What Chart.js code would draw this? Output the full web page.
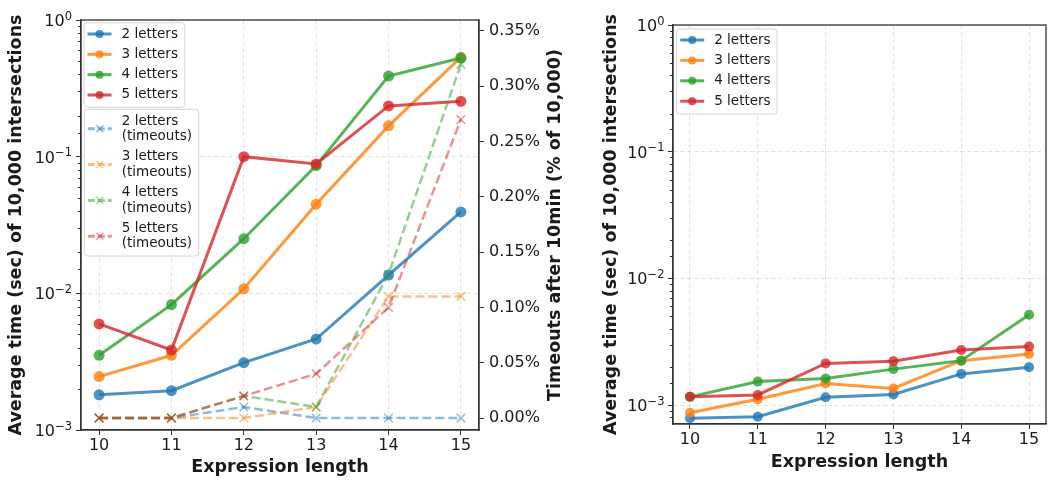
<!DOCTYPE html>
<html>
<head>
<meta charset="utf-8">
<script src="https://cdn.jsdelivr.net/npm/chart.js@4"></script>
<style>
html, body { margin: 0; padding: 0; background: #fff; }
#wrap { position: relative; width: 1051px; height: 482px; }
#left { position: absolute; left: 0; top: 0; }
#right { position: absolute; left: 595px; top: 0; }
</style>
</head>
<body>
<div id="wrap">
  <canvas id="left" width="590" height="482"></canvas>
  <canvas id="right" width="456" height="482"></canvas>
</div>
<script>
// expression lengths on the x axis
const lengths = [10, 11, 12, 13, 14, 15];
const letterNames = ['2 letters', '3 letters', '4 letters', '5 letters'];

// left panel: average time (sec) of 10,000 intersections
const time2 = [0.00181, 0.00194, 0.00311, 0.00463, 0.0136, 0.0394];
const time3 = [0.00246, 0.00352, 0.0108, 0.0449, 0.168, 0.533];
const time4 = [0.00352, 0.00827, 0.0251, 0.086, 0.389, 0.527];
const time5 = [0.00597, 0.00385, 0.100, 0.0885, 0.235, 0.254];

// left panel: timeouts after 10min (% of 10,000)
const timeout2 = [0, 0, 0.01, 0, 0, 0];
const timeout3 = [0, 0, 0, 0.01, 0.11, 0.11];
const timeout4 = [0, 0, 0.02, 0.01, 0.13, 0.32];
const timeout5 = [0, 0, 0.02, 0.04, 0.10, 0.27];
const timeoutTicks = [0, 0.05, 0.10, 0.15, 0.20, 0.25, 0.30, 0.35];

// right panel: average time (sec)
const fast2 = [0.000785, 0.000809, 0.00115, 0.00121, 0.00176, 0.00199];
const fast3 = [0.000869, 0.00111, 0.00148, 0.00135, 0.00224, 0.00253];
const fast4 = [0.00116, 0.00153, 0.00162, 0.00192, 0.00224, 0.00516];
const fast5 = [0.00116, 0.00120, 0.00213, 0.00222, 0.00272, 0.00289];

Chart.defaults.font.family = "'DejaVu Sans', sans-serif";
Chart.defaults.color = '#1a1a1a';

const tab = [[31, 119, 180], [255, 127, 14], [44, 160, 44], [214, 39, 40]];
const rgba = (c, a) => `rgba(${c[0]},${c[1]},${c[2]},${a})`;
const gridCol = 'rgba(170,170,170,0.35)';
const spine = '#333';
const clear = 'rgba(0,0,0,0)';

function isPow10(v) {
  const e = Math.log10(v);
  return Math.abs(e - Math.round(e)) < 1e-6;
}
const pts = vals => vals.map((v, i) => ({ x: lengths[i], y: v }));

function lineSet(i, vals, order, r) {
  return {
    label: letterNames[i],
    data: pts(vals),
    yAxisID: 'y',
    borderColor: rgba(tab[i], 0.8),
    backgroundColor: rgba(tab[i], 0.8),
    pointBackgroundColor: rgba(tab[i], 0.8),
    pointBorderColor: rgba(tab[i], 0.8),
    borderWidth: 3,
    pointRadius: r,
    pointBorderWidth: 0,
    pointStyle: 'circle',
    tension: 0,
    order: order
  };
}
function timeoutSet(i, vals, order) {
  return {
    label: letterNames[i] + '\n(timeouts)',
    data: pts(vals),
    yAxisID: 'y1',
    borderColor: rgba(tab[i], 0.5),
    backgroundColor: rgba(tab[i], 0.5),
    pointBorderColor: rgba(tab[i], 0.5),
    borderWidth: 2.5,
    borderDash: [9, 4],
    pointStyle: 'crossRot',
    pointRadius: 6,
    pointBorderWidth: 1.5,
    tension: 0,
    order: order
  };
}

// frame around the plot area (matplotlib spines)
const frame = {
  id: 'frame',
  afterDatasetsDraw(chart) {
    const a = chart.chartArea, ctx = chart.ctx;
    ctx.save();
    ctx.strokeStyle = spine;
    ctx.lineWidth = 1.3;
    ctx.strokeRect(a.left, a.top, a.right - a.left, a.bottom - a.top);
    ctx.restore();
  }
};

// log-axis labels as 10 with a raised exponent, plus short minor ticks
const logLabels = {
  id: 'logLabels',
  afterDraw(chart, args, opts) {
    const sc = chart.scales.y, ctx = chart.ctx;
    ctx.save();
    ctx.fillStyle = '#1a1a1a';
    ctx.strokeStyle = spine;
    ctx.lineWidth = 1;
    ctx.textAlign = 'left';
    ctx.textBaseline = 'alphabetic';
    sc.ticks.forEach(t => {
      const y = sc.getPixelForValue(t.value);
      if (isPow10(t.value)) {
        const e = String(Math.round(Math.log10(t.value))).replace('-', '\u2212');
        ctx.font = "16px 'DejaVu Sans'";
        const baseW = ctx.measureText('10').width;
        ctx.font = "11.5px 'DejaVu Sans'";
        const expW = ctx.measureText(e).width;
        const x0 = sc.right - 5 - opts.pad - baseW - expW;
        ctx.font = "16px 'DejaVu Sans'";
        ctx.fillText('10', x0, y + 6);
        ctx.font = "11.5px 'DejaVu Sans'";
        ctx.fillText(e, x0 + baseW, y - 0.5);
      } else if (y > chart.chartArea.top + 0.5 && y < chart.chartArea.bottom - 0.5) {
        ctx.beginPath();
        ctx.moveTo(sc.right - 3, Math.round(y) + 0.5);
        ctx.lineTo(sc.right, Math.round(y) + 0.5);
        ctx.stroke();
      }
    });
    ctx.restore();
  }
};

// legend boxes inside the plot area
const boxLegend = {
  id: 'boxLegend',
  afterDraw(chart, args, opts) {
    const ctx = chart.ctx;
    (opts.boxes || []).forEach(b => {
      ctx.save();
      ctx.beginPath();
      ctx.roundRect(b.x, b.y, b.w, b.h, 3);
      ctx.fillStyle = 'rgba(255,255,255,0.85)';
      ctx.fill();
      ctx.strokeStyle = '#d4d4d4';
      ctx.lineWidth = 1;
      ctx.stroke();
      b.items.forEach((idx, k) => {
        const ds = chart.data.datasets[idx];
        const cy = b.y + b.first + k * b.step;
        const x0 = b.x + 3.5, x1 = b.x + 27.5, mx = (x0 + x1) / 2;
        ctx.strokeStyle = ds.borderColor;
        ctx.lineWidth = 3;
        ctx.setLineDash(ds.borderDash ? [7, 3] : []);
        ctx.beginPath();
        ctx.moveTo(x0, cy);
        ctx.lineTo(x1, cy);
        ctx.stroke();
        ctx.setLineDash([]);
        if (ds.pointStyle === 'crossRot') {
          const r = 3.5;
          ctx.lineWidth = 1.3;
          ctx.beginPath();
          ctx.moveTo(mx - r, cy - r); ctx.lineTo(mx + r, cy + r);
          ctx.moveTo(mx - r, cy + r); ctx.lineTo(mx + r, cy - r);
          ctx.stroke();
        } else {
          ctx.fillStyle = ds.pointBackgroundColor;
          ctx.beginPath();
          ctx.arc(mx, cy, 4, 0, Math.PI * 2);
          ctx.fill();
        }
        ctx.fillStyle = '#1a1a1a';
        ctx.font = "13.5px 'DejaVu Sans'";
        ctx.textAlign = 'left';
        ctx.textBaseline = 'middle';
        const lines = ds.label.split('\n');
        const lh = 15.4;
        lines.forEach((t, j) => {
          ctx.fillText(t, b.x + 37.5, cy + (j - (lines.length - 1) / 2) * lh);
        });
      });
      ctx.restore();
    });
  }
};

// ylabel of the twin (right) axis, reading bottom to top
const sideTitle = {
  id: 'sideTitle',
  afterDraw(chart, args, opts) {
    if (!opts.text) return;
    const a = chart.chartArea, ctx = chart.ctx;
    ctx.save();
    ctx.translate(opts.x, (a.top + a.bottom) / 2);
    ctx.rotate(-Math.PI / 2);
    ctx.font = "bold 17.5px 'DejaVu Sans'";
    ctx.fillStyle = '#1a1a1a';
    ctx.textAlign = 'center';
    ctx.textBaseline = 'middle';
    ctx.fillText(opts.text, 0, 0);
    ctx.restore();
  }
};

function xAxis(height, titlePad) {
  return {
    type: 'linear',
    min: 9.75,
    max: 15.25,
    afterBuildTicks: ax => { ax.ticks = lengths.map(v => ({ value: v })); },
    afterFit: ax => { ax.height = height; },
    ticks: { font: { size: 16 }, padding: 1, maxRotation: 0, autoSkip: false },
    grid: { color: gridCol, tickColor: spine, tickLength: 5, lineWidth: 1 },
    border: { color: spine, width: 1.3, dash: [4, 3] },
    title: { display: true, text: 'Expression length', font: { size: 17.5, weight: 'bold' }, padding: { bottom: titlePad, top: 0 } }
  };
}
function logAxis(min, width) {
  return {
    type: 'logarithmic',
    position: 'left',
    min: min,
    max: 1,
    afterFit: ax => { ax.width = width; },
    ticks: { font: { size: 16 }, autoSkip: false, callback: () => '' },
    grid: {
      color: c => (c.tick && isPow10(c.tick.value)) ? gridCol : clear,
      tickColor: c => (c.tick && isPow10(c.tick.value)) ? spine : clear,
      tickLength: 5, lineWidth: 1
    },
    border: { color: spine, width: 1.3, dash: [4, 3] },
    title: { display: true, text: 'Average time (sec) of 10,000 intersections', font: { size: 17.5, weight: 'bold' }, padding: { top: 6, bottom: 0 } }
  };
}

new Chart(document.getElementById('left'), {
  type: 'line',
  data: {
    datasets: [
      lineSet(0, time2, 8, 5.5),
      lineSet(1, time3, 7, 5.5),
      lineSet(2, time4, 6, 5.5),
      lineSet(3, time5, 5, 5.5),
      timeoutSet(0, timeout2, 4),
      timeoutSet(1, timeout3, 3),
      timeoutSet(2, timeout4, 2),
      timeoutSet(3, timeout5, 1)
    ]
  },
  options: {
    responsive: false,
    animation: false,
    layout: { padding: { top: 20, left: 0, right: 0, bottom: 0 } },
    scales: {
      x: xAxis(52, 4.5),
      y: logAxis(0.001, 81),
      y1: {
        type: 'linear',
        position: 'right',
        min: -0.0108,
        max: 0.3599,
        afterBuildTicks: ax => { ax.ticks = timeoutTicks.map(v => ({ value: v })); },
        afterFit: ax => { ax.width = 111; },
        ticks: { font: { size: 16 }, padding: 5, autoSkip: false, callback: v => v.toFixed(2) + '%' },
        grid: { drawOnChartArea: false, tickColor: spine, tickLength: 5 },
        border: { color: spine, width: 1.3 }
      }
    },
    plugins: {
      legend: { display: false },
      tooltip: { enabled: false },
      logLabels: { pad: 4 },
      sideTitle: { text: 'Timeouts after 10min (% of 10,000)', x: 555 },
      boxLegend: {
        boxes: [
          { x: 84, y: 22.7, w: 100.7, h: 84.6, first: 11.3, step: 20.33, items: [0, 1, 2, 3] },
          { x: 84.3, y: 109.3, w: 114.4, h: 146.7, first: 19.5, step: 35.8, items: [4, 5, 6, 7] }
        ]
      }
    }
  },
  plugins: [frame, logLabels, boxLegend, sideTitle]
});

new Chart(document.getElementById('right'), {
  type: 'line',
  data: {
    datasets: [
      lineSet(0, fast2, 8, 5),
      lineSet(1, fast3, 7, 5),
      lineSet(2, fast4, 6, 5),
      lineSet(3, fast5, 5, 5)
    ]
  },
  options: {
    responsive: false,
    animation: false,
    layout: { padding: { top: 25, left: 0, right: 1, bottom: 0 } },
    scales: {
      x: xAxis(58, 9.5),
      y: logAxis(0.000708, 78)
    },
    plugins: {
      legend: { display: false },
      tooltip: { enabled: false },
      logLabels: { pad: 3.5 },
      boxLegend: {
        boxes: [
          { x: 81.7, y: 29, w: 100.3, h: 85, first: 11, step: 20.4, items: [0, 1, 2, 3] }
        ]
      }
    }
  },
  plugins: [frame, logLabels, boxLegend]
});
</script>
</body>
</html>
